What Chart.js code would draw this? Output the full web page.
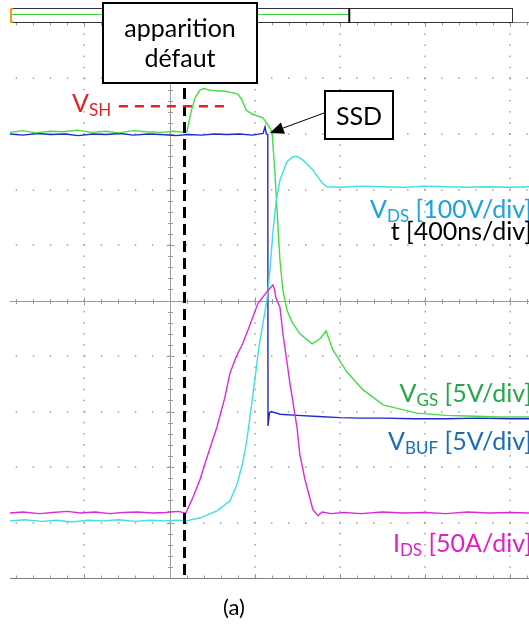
<!DOCTYPE html>
<html>
<head>
<meta charset="utf-8">
<script src="https://cdn.jsdelivr.net/npm/chart.js@4"></script>
<style>
  body { margin: 0; background: #fff; }
  #wrap { width: 529px; height: 624px; position: relative; }
</style>
</head>
<body>
<div id="wrap"><canvas id="ScopeChart"></canvas></div>
<script>
// time in ns (400 ns/div), levels in screen divisions (0 = centre line)
var vgsTime  = [-750,-690,-630,-560,-500,-430,-370,-300,-240,-170,-110,-40,20,70,82,100,120,143,160,190,223,261,298,322,341,360,388,439,463,482,496,519,533,552,576,613,670,707,736,768,834,910,1004,1163,1300,1399,1550,1690];
var vgsLevel = [3.03,3.06,3.02,3.05,3.04,3.07,3.03,3.05,3.02,3.06,3.04,3.03,3.05,3.03,3.04,3.38,3.65,3.79,3.82,3.79,3.78,3.77,3.74,3.72,3.61,3.43,3.36,3.29,3.16,3.04,2.26,0.73,0.19,-0.17,-0.39,-0.60,-0.78,-0.69,-0.55,-0.89,-1.29,-1.61,-1.88,-2.03,-2.07,-2.08,-2.10,-2.10];

var vbufTime  = [-750,-690,-620,-560,-490,-430,-360,-300,-230,-170,-100,-40,30,90,150,210,270,330,390,440,449,455,462,463,470,478,520,600,700,800,900,1000,1150,1300,1450,1600,1690];
var vbufLevel = [3.00,2.98,3.01,2.99,3.00,2.97,3.00,2.99,3.01,2.98,3.00,2.99,2.97,2.99,2.98,3.00,2.99,3.00,2.98,3.01,3.13,3.00,2.99,-2.26,-2.02,-2.00,-2.05,-2.07,-2.09,-2.11,-2.12,-2.12,-2.13,-2.13,-2.12,-2.13,-2.13];

var vdsTime  = [-750,-680,-600,-530,-460,-380,-310,-240,-160,-90,-20,40,77,143,223,284,317,345,364,392,420,458,472,486,500,519,552,580,600,627,674,717,740,800,900,1000,1100,1200,1300,1400,1500,1600,1690];
var vdsLevel = [-3.97,-3.95,-3.98,-3.96,-3.99,-3.96,-3.97,-3.95,-3.98,-3.96,-3.97,-3.96,-3.97,-3.92,-3.79,-3.61,-3.32,-2.91,-2.50,-1.70,-0.85,0.01,0.55,1.22,1.75,2.17,2.50,2.59,2.60,2.53,2.35,2.12,2.05,2.04,2.06,2.05,2.04,2.06,2.05,2.04,2.05,2.04,2.05];

var idsTime  = [-750,-690,-610,-550,-480,-420,-350,-280,-220,-150,-80,-20,40,77,110,143,180,223,260,284,315,345,380,416,450,472,486,494,500,519,533,566,599,613,637,674,698,717,760,820,900,1000,1100,1200,1300,1400,1500,1600,1690];
var idsLevel = [-3.83,-3.81,-3.84,-3.82,-3.80,-3.83,-3.81,-3.84,-3.82,-3.81,-3.83,-3.82,-3.80,-3.83,-3.55,-3.23,-2.78,-2.28,-1.75,-1.31,-1.00,-0.77,-0.42,-0.05,0.12,0.22,0.28,0.20,0.05,-0.12,-0.59,-1.49,-2.28,-2.78,-3.23,-3.77,-3.88,-3.81,-3.84,-3.82,-3.84,-3.81,-3.83,-3.82,-3.84,-3.81,-3.83,-3.82,-3.83];

var gridTimes = [-400, 400, 800, 1200, 1600];
var gridLevels = [-4, -3, -2, -1, 1, 2, 3, 4];
var faultTime = 68;      // dashed marker "apparition défaut"
var vshLevel = 3.50;     // V_SH threshold
var vshStart = -238, vshEnd = 284;
var ssdPoint = [462, 3.0];

function pairs(tt, vv)
{
  let out = [];
  for (let i = 0; i < tt.length; i++) out.push({x: tt[i], y: vv[i]});
  return out;
}

function subText(ctx, x, y, parts, align)
{
  // parts: [text, size, dy]
  let total = 0;
  parts.forEach(p => { ctx.font = p[1] + 'px Lato'; total += ctx.measureText(p[0]).width; });
  let cx = align == 'right' ? x - total : x;
  ctx.textAlign = 'left';
  parts.forEach(p => {
    ctx.font = p[1] + 'px Lato';
    ctx.fillText(p[0], cx, y + p[2]);
    cx += ctx.measureText(p[0]).width;
  });
}

const graticule = {
  id: 'graticule',
  beforeDatasetsDraw(chart)
  {
    const ctx = chart.ctx, xs = chart.scales.x, ys = chart.scales.y;
    const L = chart.chartArea.left, R = chart.width, T = chart.chartArea.top, B = chart.chartArea.bottom;
    ctx.save();
    ctx.fillStyle = '#a0a0a0';
    gridTimes.forEach(t => {
      let px = Math.round(xs.getPixelForValue(t));
      for (let k = -25; k <= 25; k++) ctx.fillRect(px - 0.7, ys.getPixelForValue(k / 5) - 0.7, 1.5, 1.5);
    });
    gridLevels.forEach(v => {
      let py = Math.round(ys.getPixelForValue(v));
      for (let t = -720; t <= 1700; t += 80) ctx.fillRect(xs.getPixelForValue(t) - 0.7, py - 0.7, 1.5, 1.5);
    });

    // centre cross with minor ticks
    ctx.strokeStyle = '#9a9a9a';
    ctx.lineWidth = 1;
    let y0 = Math.round(ys.getPixelForValue(0)) + 0.5;
    let x0 = Math.round(xs.getPixelForValue(0)) + 0.5;
    ctx.beginPath();
    ctx.moveTo(L, y0); ctx.lineTo(R, y0);
    ctx.moveTo(x0, T); ctx.lineTo(x0, B);
    for (let t = -720; t <= 1700; t += 80) {
      let px = Math.round(xs.getPixelForValue(t)) + 0.5;
      let h = (t % 400 == 0) ? 4 : 2.5;
      ctx.moveTo(px, y0 - h); ctx.lineTo(px, y0 + h);
      ctx.moveTo(px, B); ctx.lineTo(px, B - h);
      ctx.moveTo(px, T); ctx.lineTo(px, T + h);
    }
    for (let k = -25; k <= 25; k++) {
      let py = Math.round(ys.getPixelForValue(k / 5)) + 0.5;
      let h = (k % 5 == 0) ? 4 : 2.5;
      ctx.moveTo(x0 - h, py); ctx.lineTo(x0 + h, py);
    }
    ctx.stroke();

    // bottom and top edges
    ctx.strokeStyle = '#808080';
    ctx.beginPath();
    ctx.moveTo(L, Math.round(B) + 0.5); ctx.lineTo(R, Math.round(B) + 0.5);
    ctx.moveTo(L, Math.round(T) - 0.5); ctx.lineTo(R, Math.round(T) - 0.5);
    ctx.stroke();

    // record bar on top
    let barR = Math.round(xs.getPixelForValue(1610));
    ctx.strokeStyle = '#333';
    ctx.strokeRect(L + 0.5, 8.5, barR - L, 14);
    ctx.strokeStyle = '#3ccf3c';
    ctx.lineWidth = 1.2;
    ctx.beginPath();
    ctx.moveTo(L + 2, 14.5); ctx.lineTo(xs.getPixelForValue(845), 14.5);
    ctx.stroke();
    ctx.strokeStyle = '#111';
    ctx.lineWidth = 2;
    ctx.beginPath();
    ctx.moveTo(xs.getPixelForValue(845), 8); ctx.lineTo(xs.getPixelForValue(845), 23);
    ctx.stroke();
    ctx.strokeStyle = '#f0a020';
    ctx.lineWidth = 2;
    ctx.beginPath();
    ctx.moveTo(L + 3, 9); ctx.lineTo(L + 1, 9); ctx.lineTo(L + 1, 22); ctx.lineTo(L + 3, 22);
    ctx.stroke();
    ctx.restore();
  }
};

const notes = {
  id: 'notes',
  afterDatasetsDraw(chart)
  {
    const ctx = chart.ctx, xs = chart.scales.x, ys = chart.scales.y;
    ctx.save();

    // fault marker
    let fx = Math.round(xs.getPixelForValue(faultTime)) + 0.5;
    ctx.strokeStyle = '#000';
    ctx.lineWidth = 3;
    ctx.setLineDash([11, 6]);
    ctx.beginPath();
    ctx.moveTo(fx, 88); ctx.lineTo(fx, chart.chartArea.bottom);
    ctx.stroke();

    // V_SH threshold
    let vy = ys.getPixelForValue(vshLevel);
    ctx.strokeStyle = '#e8201e';
    ctx.lineWidth = 2.5;
    ctx.setLineDash([9, 7]);
    ctx.beginPath();
    ctx.moveTo(xs.getPixelForValue(vshStart), vy); ctx.lineTo(xs.getPixelForValue(vshEnd), vy);
    ctx.stroke();
    ctx.setLineDash([]);
    ctx.fillStyle = '#e8201e';
    subText(ctx, 72, 112, [['V', 25, 0], ['SH', 17, 4]], 'left');

    // "apparition défaut" box
    ctx.fillStyle = '#fff';
    ctx.fillRect(103, 3, 154, 80);
    ctx.strokeStyle = '#000';
    ctx.lineWidth = 2;
    ctx.strokeRect(103, 3, 154, 80);
    ctx.fillStyle = '#000';
    ctx.font = '25px Lato';
    ctx.textAlign = 'center';
    ctx.fillText('apparition', 180, 37);
    ctx.fillText('défaut', 180, 67);

    // SSD box and arrow
    ctx.fillStyle = '#fff';
    ctx.fillRect(325, 91, 68, 48);
    ctx.strokeRect(325, 91, 68, 48);
    ctx.fillStyle = '#000';
    ctx.fillText('SSD', 359, 125);
    let ax = xs.getPixelForValue(ssdPoint[0]) + 2, ay = ys.getPixelForValue(ssdPoint[1]) - 1;
    let sx = 324, sy = 113;
    let ang = Math.atan2(ay - sy, ax - sx);
    ctx.lineWidth = 1;
    ctx.beginPath();
    ctx.moveTo(sx, sy); ctx.lineTo(ax - 12 * Math.cos(ang), ay - 12 * Math.sin(ang));
    ctx.stroke();
    ctx.beginPath();
    ctx.moveTo(ax, ay);
    ctx.lineTo(ax - 14 * Math.cos(ang) + 6 * Math.sin(ang), ay - 14 * Math.sin(ang) - 6 * Math.cos(ang));
    ctx.lineTo(ax - 14 * Math.cos(ang) - 6 * Math.sin(ang), ay - 14 * Math.sin(ang) + 6 * Math.cos(ang));
    ctx.closePath();
    ctx.fill();

    // channel labels, clipped at the right edge like the source
    ctx.fillStyle = '#1aa3dc';
    subText(ctx, 532, 218, [['V', 25, 0], ['DS', 17, 4], [' [100V/div]', 25, 0]], 'right');
    ctx.fillStyle = '#000';
    subText(ctx, 532, 240, [['t [400ns/div]', 25, 0]], 'right');
    ctx.fillStyle = '#25a84a';
    subText(ctx, 532, 402, [['V', 25, 0], ['GS', 17, 4], [' [5V/div]', 25, 0]], 'right');
    ctx.fillStyle = '#1b6db5';
    subText(ctx, 532, 450, [['V', 25, 0], ['BUF', 17, 4], [' [5V/div]', 25, 0]], 'right');
    ctx.fillStyle = '#e01ec8';
    subText(ctx, 532, 552, [['I', 25, 0], ['DS', 17, 4], [' [50A/div]', 25, 0]], 'right');

    ctx.fillStyle = '#000';
    ctx.font = '22px Lato';
    ctx.textAlign = 'center';
    ctx.fillText('(a)', 234, 615);
    ctx.restore();
  }
};

function trace(label, tt, vv, colour)
{
  return {
    label: label,
    data: pairs(tt, vv),
    borderColor: colour,
    borderWidth: 1.4,
    pointRadius: 0,
    showLine: true,
    tension: 0
  };
}

new Chart('ScopeChart', {
  type: 'scatter',
  data: {
    datasets: [
      trace('IDS', idsTime, idsLevel, '#d82cd8'),
      trace('VDS', vdsTime, vdsLevel, '#3ee0e0'),
      trace('VGS', vgsTime, vgsLevel, '#44dd44'),
      trace('VBUF', vbufTime, vbufLevel, '#2626cc')
    ]
  },
  options: {
    responsive: true,
    maintainAspectRatio: false,
    animation: false,
    layout: { padding: { left: 10, right: 0, top: 23, bottom: 46 } },
    plugins: { legend: { display: false }, tooltip: { enabled: false } },
    scales: {
      x: { type: 'linear', display: false, min: -750, max: 1690 },
      y: { type: 'linear', display: false, min: -5, max: 5 }
    }
  },
  plugins: [graticule, notes]
});
</script>
</body>
</html>
